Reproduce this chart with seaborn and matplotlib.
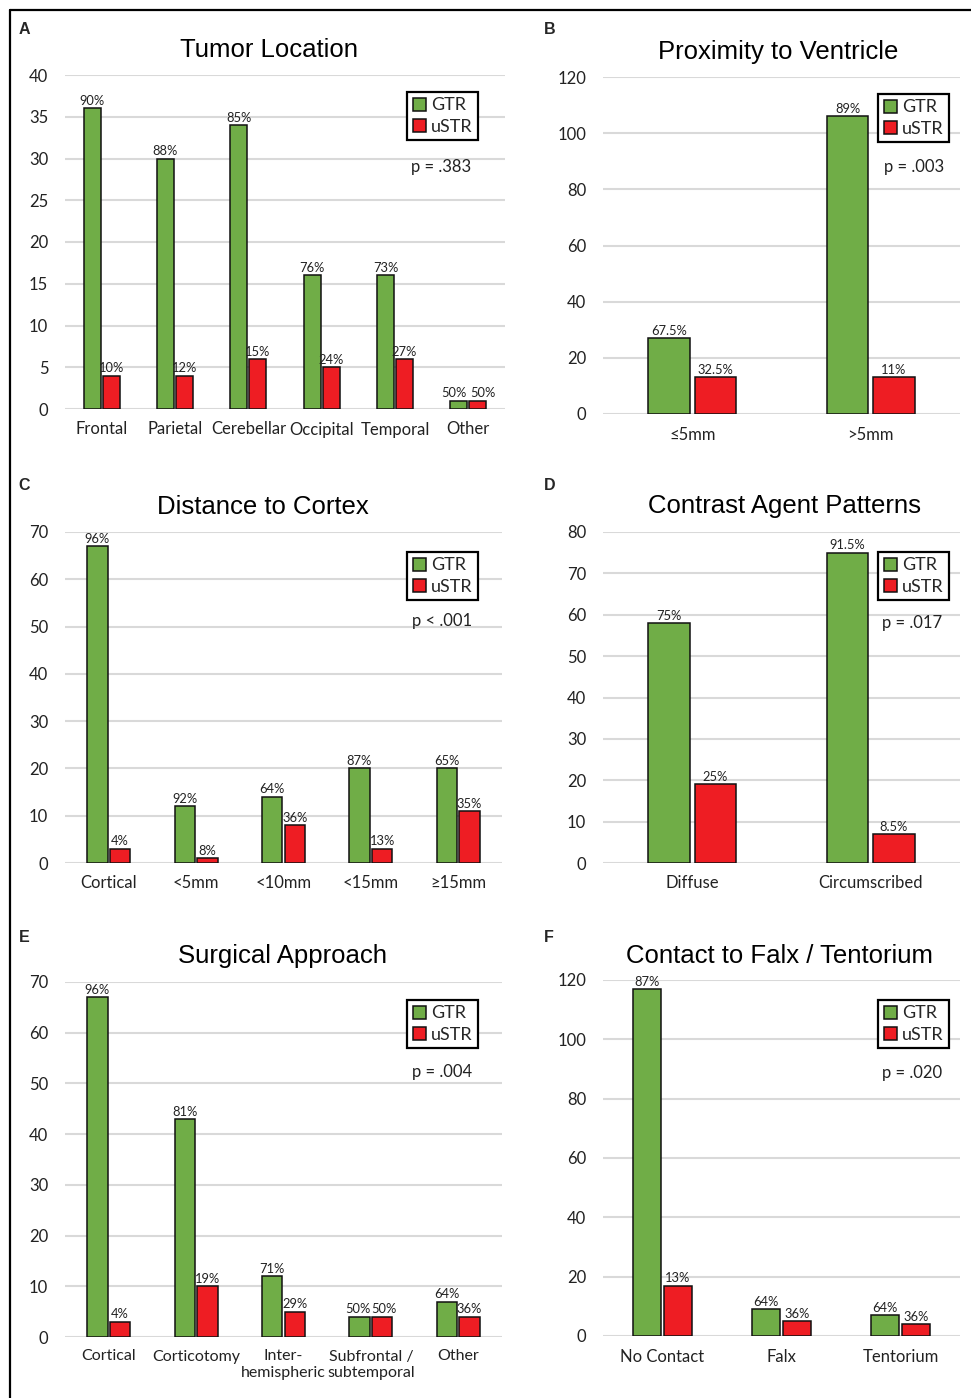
import pandas as pd
import seaborn as sns
import matplotlib.pyplot as plt
from matplotlib.patches import Patch
from matplotlib.lines import Line2D

W, H = 971, 1398
GREEN = "#70AD47"
RED = "#EE1D23"

# A - tumor location
loc_cats = ["Frontal", "Parietal", "Cerebellar", "Occipital", "Temporal", "Other"]
loc_gtr = [36, 30, 34, 16, 16, 1]
loc_ustr = [4, 4, 6, 5, 6, 1]
loc_gtr_pct = ["90%", "88%", "85%", "76%", "73%", "50%"]
loc_ustr_pct = ["10%", "12%", "15%", "24%", "27%", "50%"]

# B - proximity to ventricle
vent_cats = ["≤5mm", ">5mm"]
vent_gtr = [27, 106]
vent_ustr = [13, 13]
vent_gtr_pct = ["67.5%", "89%"]
vent_ustr_pct = ["32.5%", "11%"]

# C - distance to cortex
cortex_cats = ["Cortical", "<5mm", "<10mm", "<15mm", "≥15mm"]
cortex_gtr = [67, 12, 14, 20, 20]
cortex_ustr = [3, 1, 8, 3, 11]
cortex_gtr_pct = ["96%", "92%", "64%", "87%", "65%"]
cortex_ustr_pct = ["4%", "8%", "36%", "13%", "35%"]

# D - contrast agent patterns
contrast_cats = ["Diffuse", "Circumscribed"]
contrast_gtr = [58, 75]
contrast_ustr = [19, 7]
contrast_gtr_pct = ["75%", "91.5%"]
contrast_ustr_pct = ["25%", "8.5%"]

# E - surgical approach
approach_cats = ["Cortical", "Corticotomy", "Inter-\nhemispheric", "Subfrontal /\nsubtemporal", "Other"]
approach_gtr = [67, 43, 12, 4, 7]
approach_ustr = [3, 10, 5, 4, 4]
approach_gtr_pct = ["96%", "81%", "71%", "50%", "64%"]
approach_ustr_pct = ["4%", "19%", "29%", "50%", "36%"]

# F - contact to falx / tentorium
falx_cats = ["No Contact", "Falx", "Tentorium"]
falx_gtr = [117, 9, 7]
falx_ustr = [17, 5, 4]
falx_gtr_pct = ["87%", "64%", "64%"]
falx_ustr_pct = ["13%", "36%", "36%"]

sns.set_theme(style="white")
plt.rcParams['font.family'] = ['Lato', 'DejaVu Sans']

fig = plt.figure(figsize=(W / 100, H / 100), dpi=100)


def fx(x):
    return x / W


def fy(y):
    return 1 - y / H


panels = [
    # letter, title, cats, gtr, ustr, gpct, upct, ymax, step, axes px (x0, x1, ytop, ybot),
    # title px, letter px, legend px (right, top), p text, p px, xlabel size, label nudges
    ("A", "Tumor Location", loc_cats, loc_gtr, loc_ustr, loc_gtr_pct, loc_ustr_pct, 40, 5,
     (65, 505, 75, 409), (269, 50), (24, 30), (478, 92), "p = .383", (441, 167), 12, {5: 3.5}),
    ("B", "Proximity to Ventricle", vent_cats, vent_gtr, vent_ustr, vent_gtr_pct, vent_ustr_pct, 120, 20,
     (603, 960, 77, 414), (778, 52), (550, 30), (949, 94), "p = .003", (914, 167), 12, {}),
    ("C", "Distance to Cortex", cortex_cats, cortex_gtr, cortex_ustr, cortex_gtr_pct, cortex_ustr_pct, 70, 10,
     (65, 502, 532, 863), (263, 507), (24, 486), (478, 552), "p < .001", (442, 621), 12, {}),
    ("D", "Contrast Agent Patterns", contrast_cats, contrast_gtr, contrast_ustr, contrast_gtr_pct, contrast_ustr_pct, 80, 10,
     (603, 960, 532, 863), (785, 506), (550, 486), (949, 552), "p = .017", (912, 623), 12, {}),
    ("E", "Surgical Approach", approach_cats, approach_gtr, approach_ustr, approach_gtr_pct, approach_ustr_pct, 70, 10,
     (65, 502, 982, 1337), (283, 956), (24, 937), (478, 1000), "p = .004", (442, 1072), 11.5, {3: 1.5}),
    ("F", "Contact to Falx / Tentorium", falx_cats, falx_gtr, falx_ustr, falx_gtr_pct, falx_ustr_pct, 120, 20,
     (603, 960, 980, 1336), (779, 956), (549, 937), (949, 1000), "p = .020", (912, 1073), 12, {}),
]

for (letter, title, cats, gtr, ustr, gpct, upct, ymax, step,
     box, tpos, lpos, legpos, ptext, ppos, xsize, nudges) in panels:
    x0, x1, ytop, ybot = box
    ax = fig.add_axes([fx(x0), fy(ybot), (x1 - x0) / W, (ybot - ytop) / H])

    df = pd.DataFrame({
        "cat": cats + cats,
        "group": ["GTR"] * len(cats) + ["uSTR"] * len(cats),
        "n": gtr + ustr,
    })
    sns.barplot(data=df, x="cat", y="n", hue="group",
                palette={"GTR": GREEN, "uSTR": RED}, saturation=1,
                width=0.52, gap=0.1, edgecolor="#111111", linewidth=1.1,
                legend=False, zorder=3, ax=ax)

    for k, (cont, labs) in enumerate(zip(ax.containers, [gpct, upct])):
        anns = ax.bar_label(cont, labels=labs, padding=1, fontsize=9.3, color="#222222")
        # push apart labels that would collide on short neighbouring bars
        for i, dx in nudges.items():
            anns[i].xyann = ((-dx if k == 0 else dx), 1)

    ax.set_ylim(0, ymax)
    ax.set_yticks(range(0, ymax + 1, step))
    ax.set_xlim(-0.5, len(cats) - 0.5)
    ax.yaxis.grid(True, color="#d9d9d9", linewidth=1.5)
    ax.set_axisbelow(True)
    for s in ax.spines.values():
        s.set_visible(False)
    ax.set_xlabel("")
    ax.set_ylabel("")
    ax.tick_params(axis="both", length=0, labelsize=12, colors="#222222")
    ax.tick_params(axis="x", pad=9, labelsize=xsize)
    ax.tick_params(axis="y", pad=12)

    handles = [Patch(facecolor=GREEN, edgecolor="#111111", linewidth=1.1),
               Patch(facecolor=RED, edgecolor="#111111", linewidth=1.1)]
    leg = ax.legend(handles, ["GTR", "uSTR"], loc="upper right",
                    bbox_to_anchor=(fx(legpos[0]), fy(legpos[1])),
                    bbox_transform=fig.transFigure, frameon=True, fancybox=False,
                    edgecolor="black", framealpha=1, fontsize=13,
                    handlelength=0.75, handleheight=0.75, handletextpad=0.25,
                    borderpad=0.3, labelspacing=0.3, borderaxespad=0)
    leg.get_frame().set_linewidth(1.6)

    fig.text(fx(ppos[0]), fy(ppos[1]), ptext, ha="center", va="center",
             fontsize=12, color="#222222")
    fig.text(fx(tpos[0]), fy(tpos[1]), title, ha="center", va="center",
             fontsize=18.5, family=["Liberation Sans", "DejaVu Sans"], color="black")
    fig.text(fx(lpos[0]), fy(lpos[1]), letter, ha="center", va="center",
             fontsize=11.5, fontweight="bold", family=["Liberation Sans", "DejaVu Sans"])

# outer frame (top and left edges)
fig.add_artist(Line2D([fx(10), 1], [fy(10), fy(10)], color="black", linewidth=1.6))
fig.add_artist(Line2D([fx(10), fx(10)], [fy(10), 0], color="black", linewidth=1.6))

fig.savefig("out.png", dpi=100)
